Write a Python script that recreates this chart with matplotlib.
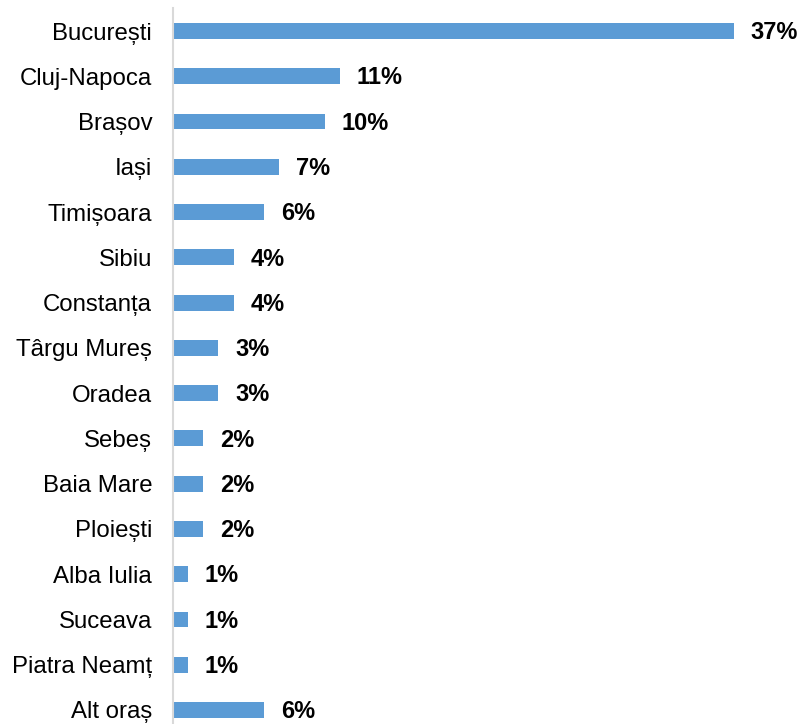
import matplotlib
matplotlib.use("Agg")
import matplotlib.pyplot as plt

cities = ["București", "Cluj-Napoca", "Brașov", "Iași", "Timișoara", "Sibiu",
          "Constanța", "Târgu Mureș", "Oradea", "Sebeș", "Baia Mare", "Ploiești",
          "Alba Iulia", "Suceava", "Piatra Neamț", "Alt oraș"]
shares = [37, 11, 10, 7, 6, 4, 4, 3, 3, 2, 2, 2, 1, 1, 1, 6]

plt.rcParams['font.family'] = ['Liberation Sans', 'DejaVu Sans']

fig = plt.figure(figsize=(8.04, 7.24), dpi=100)
ax = fig.add_axes([0.2152, -0.0119, 0.7542, 1.0003])

pos = list(range(len(cities)))
ax.barh(pos, shares, height=0.35, color="#5B9BD5")
ax.set_ylim(len(cities) - 0.5, -0.5)
ax.set_xlim(0, 40)

for p, v in zip(pos, shares):
    ax.annotate(f"{v}%", xy=(v, p), xytext=(12, -1.2), textcoords="offset points",
                va="center", ha="left", fontsize=17, fontweight="bold",
                color="#000000")

ax.set_yticks(pos)
ax.set_yticklabels(cities, fontsize=17.3)
ax.tick_params(axis="y", length=0, pad=15)
ax.set_xticks([])
for s in ["top", "right", "bottom"]:
    ax.spines[s].set_visible(False)
ax.spines["left"].set_color("#d9d9d9")
ax.spines["left"].set_linewidth(1.5)

fig.savefig("out.png", dpi=100)
